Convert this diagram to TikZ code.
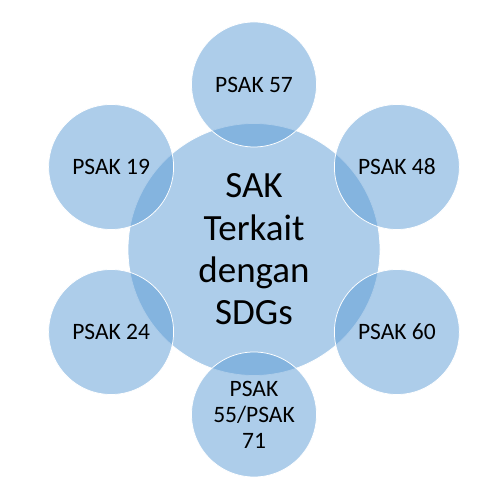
\documentclass[tikz,border=0pt]{standalone}
\usepackage{fontspec}
\setmainfont{Carlito}
\usetikzlibrary{calc}
\definecolor{sdgblue}{HTML}{5B9BD5}

\begin{document}
\begin{tikzpicture}[x=1bp,y=1bp,
  bubble/.style={circle,fill=sdgblue,fill opacity=0.5,text opacity=1,draw=white,line width=0.75bp,inner sep=0pt,align=center},
  hub/.style={bubble,minimum size=252bp,font=\fontsize{37bp}{42.3bp}\selectfont},
  leaf/.style={bubble,minimum size=125bp,font=\fontsize{23.5bp}{26bp}\selectfont}]
\useasboundingbox (0,0) rectangle (497,489);

\node[hub] (sak) at (254,239.5) {SAK\\Terkait\\dengan\\SDGs};

\foreach \ang/\name/\txt in {90/psak57/PSAK 57, 30/psak48/PSAK 48, -30/psak60/PSAK 60,
  -90/psak55/{PSAK\\55{/}PSAK\\71}, -150/psak24/PSAK 24, 150/psak19/PSAK 19}
  \node[leaf] (\name) at ($(sak)+(\ang:165)$) {\txt};

\end{tikzpicture}
\end{document}
